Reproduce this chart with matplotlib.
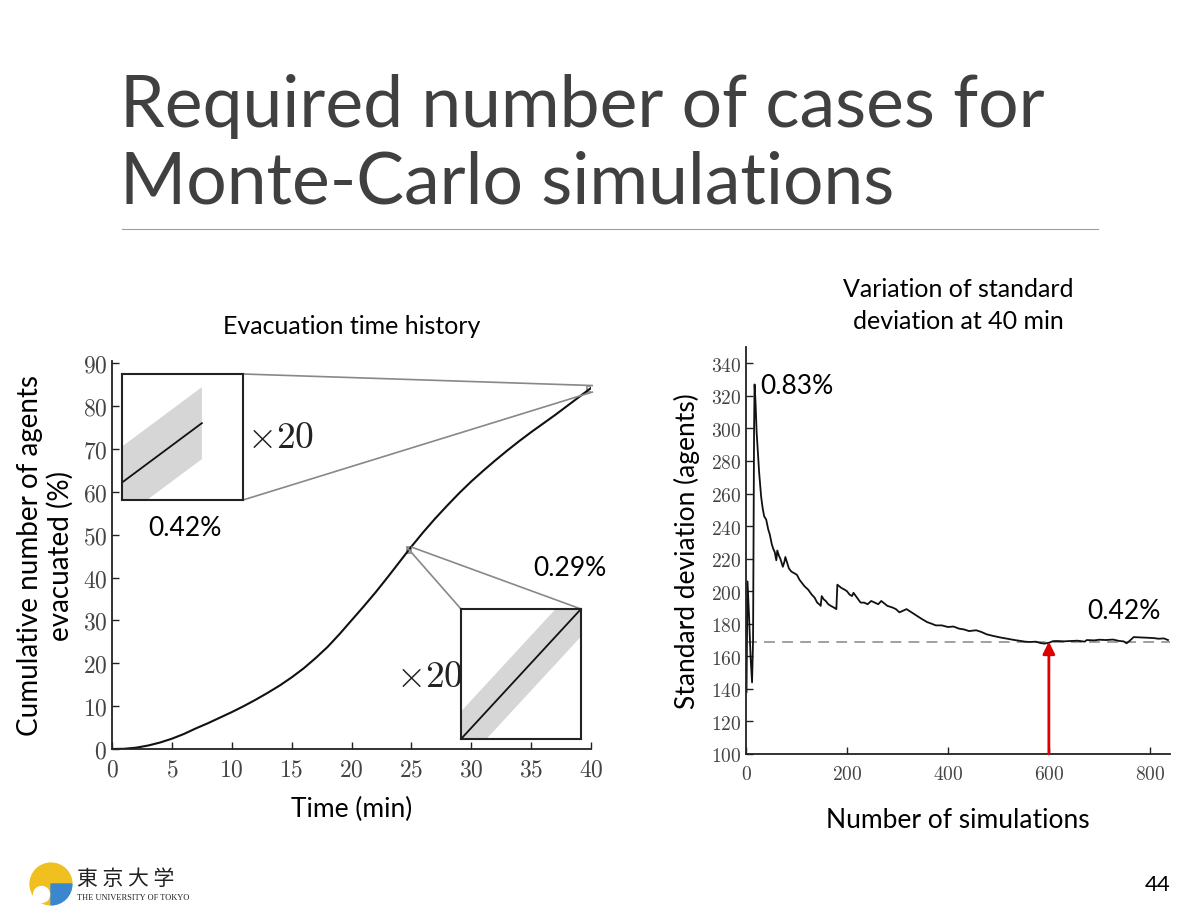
import matplotlib
matplotlib.use('Agg')
import matplotlib.pyplot as plt
from matplotlib.patches import Wedge, Circle
from matplotlib.ticker import FuncFormatter
from mpl_toolkits.axes_grid1.inset_locator import mark_inset
import numpy as np

plt.rcParams['font.family'] = ['Lato', 'DejaVu Sans']
plt.rcParams['mathtext.fontset'] = 'cm'

# evacuation time history (mean curve), one value per minute
time_min = list(range(0, 41))
evacuated_pct = [0, 0.05, 0.3, 0.8, 1.5, 2.4, 3.5, 4.8, 6.0, 7.3,
                 8.6, 10.0, 11.5, 13.1, 14.8, 16.7, 18.8, 21.2, 23.8, 26.8,
                 30.0, 33.2, 36.5, 40.0, 43.6, 47.2, 50.6, 53.8, 56.8, 59.7,
                 62.4, 64.9, 67.3, 69.6, 71.8, 73.9, 75.9, 77.9, 80.0, 82.1,
                 84.2]
band_25 = 0.29
band_40 = 0.42

# standard deviation at 40 min vs number of simulations
n_sims = [1, 3, 6, 9, 12, 14, 16, 17, 19, 21, 26, 30, 33, 36, 40, 44, 47,
          51, 54, 57, 60, 62, 65, 68, 71, 73, 76, 78, 82, 85, 90, 96, 101,
          106, 111, 116, 123, 130, 136, 141, 145, 148, 150, 154, 158, 163,
          168, 174, 179, 181, 185, 189, 195, 200, 205, 210, 213, 220, 227,
          234, 241, 248, 255, 262, 268, 272, 280, 290, 297, 304, 311, 318,
          328, 338, 348, 359, 368, 376, 388, 400, 411, 422, 432, 442, 450,
          456, 466, 477, 490, 505, 518, 532, 543, 553, 563, 574, 583, 591,
          601, 608, 616, 630, 643, 657, 671, 675, 690, 700, 713, 727, 740,
          748, 754, 760, 768, 782, 796, 808, 817, 828, 836]
std_agents = [138, 206, 185, 160, 144, 170, 300, 327, 315, 298, 273, 258,
              251, 246, 244, 238, 235, 229, 226, 224, 219, 225, 222, 220,
              217, 215, 218, 221, 217, 214, 212, 211, 210, 207, 205, 203,
              201, 198, 196, 193, 192, 191, 197, 195, 194, 192, 191, 190,
              189, 204, 203, 202, 201, 200, 198, 197, 199, 196, 193, 193,
              192, 194, 193, 192, 194, 193, 191, 190, 189, 187, 188, 189,
              187, 185, 183, 181, 180, 179, 179, 178, 178.3, 177, 176.5,
              175.5, 175.8, 176, 175, 173.5, 172.5, 171.5, 170.8, 170, 169.5,
              169, 168.8, 169, 168.2, 167.8, 168.4, 169.3, 169.4, 169.2,
              169.4, 169.6, 169, 170, 169.8, 170.2, 170, 170.3, 169.4, 169.2,
              168, 169.5, 171.8, 171.6, 171.4, 171.2, 170.8, 171, 170]
converged_std = 169
chosen_n = 600

fig = plt.figure(figsize=(12, 9.12), dpi=100)

# slide title
title_color = '#404040'
fig.text(0.1, 1 - 127 / 912, 'Required number of cases for', fontsize=51.5,
         color=title_color, va='baseline')
fig.text(0.1, 1 - 203 / 912, 'Monte-Carlo simulations', fontsize=51.5,
         color=title_color, va='baseline')
fig.add_artist(plt.Line2D([122 / 1200, 1098 / 1200], [1 - 230 / 912] * 2,
                          color='#a0a0a0', lw=0.8))

tick_fmt = FuncFormatter(lambda v, p: r'$%d$' % v)


def style_axes(ax, size):
    for s in ['top', 'right']:
        ax.spines[s].set_visible(False)
    for s in ['left', 'bottom']:
        ax.spines[s].set_linewidth(1.3)
        ax.spines[s].set_color('#222222')
    ax.tick_params(direction='in', length=5, width=1, colors='#222222',
                   labelsize=size, labelcolor='#444444')
    ax.tick_params(axis='x', pad=7)
    ax.xaxis.set_major_formatter(tick_fmt)
    ax.yaxis.set_major_formatter(tick_fmt)


# left chart
ax1 = fig.add_axes([112 / 1200, 1 - 750 / 912, 479 / 1200, 388 / 912])
ax1.plot(time_min, evacuated_pct, color='#111111', lw=1.5)
ax1.set_xlim(0, 40)
ax1.set_ylim(0, 90.5)
ax1.set_xticks(range(0, 41, 5))
ax1.set_yticks(range(0, 91, 10))
style_axes(ax1, 17)
ax1.set_xlabel('Time (min)', fontsize=19, labelpad=12)
ax1.set_ylabel('Cumulative number of agents\nevacuated (%)', fontsize=20,
               labelpad=6, linespacing=1.2)
ax1.set_title('Evacuation time history', fontsize=18, pad=20)

t = np.array(time_min, dtype=float)
v = np.array(evacuated_pct)


def make_inset(rect, xlim, ylim, band):
    ins = fig.add_axes(rect)
    ins.fill_between(t, v - band, v + band, color='#d6d6d6', lw=0)
    ins.plot(t, v, color='#111111', lw=1.3)
    ins.set_xlim(*xlim)
    ins.set_ylim(*ylim)
    ins.set_xticks([])
    ins.set_yticks([])
    for s in ins.spines.values():
        s.set_linewidth(1.5)
        s.set_color('#222222')
    return ins


v40 = np.interp(40, t, v)
ins1 = make_inset([122 / 1200, 1 - 501 / 912, 121 / 1200, 126 / 912],
                  (39.67, 40.17), (v40 - 0.61 * 1.47, v40 + 0.39 * 1.47),
                  band_40)
mark_inset(ax1, ins1, loc1=1, loc2=4, fc='none', ec='#888888', lw=1.2)

x2a, x2b = 24.6, 24.98
ins2 = make_inset([461 / 1200, 1 - 740 / 912, 120 / 1200, 130 / 912],
                  (x2a, x2b), (np.interp(x2a, t, v), np.interp(x2b, t, v)),
                  band_25)
mark_inset(ax1, ins2, loc1=2, loc2=1, fc='none', ec='#888888', lw=1.2)

fig.text(247 / 1200, 1 - 437 / 912, r'$\times20$', fontsize=27,
         color='#222222', va='center')
fig.text(396 / 1200, 1 - 676 / 912, r'$\times20$', fontsize=27,
         color='#222222', va='center')
fig.text(185 / 1200, 1 - 528 / 912, '0.42%', fontsize=19, ha='center',
         va='center')
fig.text(570 / 1200, 1 - 569 / 912, '0.29%', fontsize=19, ha='center',
         va='center')

# right chart
ax2 = fig.add_axes([746 / 1200, 1 - 755 / 912, 424 / 1200, 407 / 912])
ax2.plot(n_sims, std_agents, color='#111111', lw=1.3)
ax2.axhline(converged_std, color='#999999', lw=1.3, dashes=(6, 4), zorder=1)
ax2.annotate('', xy=(chosen_n, converged_std), xytext=(chosen_n, 100),
             arrowprops=dict(arrowstyle='-|>', color='#dd0000', lw=2,
                             mutation_scale=18, shrinkA=0, shrinkB=0),
             annotation_clip=False)
ax2.set_xlim(0, 840)
ax2.set_ylim(100, 350)
ax2.set_xticks(range(0, 801, 200))
ax2.set_yticks(range(100, 341, 20))
style_axes(ax2, 14)
ax2.set_xlabel('Number of simulations', fontsize=19, labelpad=18)
ax2.set_ylabel('Standard deviation (agents)', fontsize=19, labelpad=8)
ax2.set_title('Variation of standard\ndeviation at 40 min', fontsize=18,
              pad=14, linespacing=1.45)
fig.text(797 / 1200, 1 - 387 / 912, '0.83%', fontsize=19, ha='center',
         va='center')
fig.text(1124 / 1200, 1 - 612 / 912, '0.42%', fontsize=19, ha='center',
         va='center')

# footer: page number and logo
fig.text(1158 / 1200, 1 - 885 / 912, '44', fontsize=16, ha='center',
         va='center')
lg = fig.add_axes([28 / 1200, 1 - 908 / 912, 46 / 1200, 46 / 912])
lg.set_xlim(-1.1, 1.1)
lg.set_ylim(-1.1, 1.1)
lg.set_aspect('equal')
lg.axis('off')
lg.add_patch(Wedge((0, 0), 1, 0, 180, color='#f0c020'))
lg.add_patch(Wedge((0, 0), 1, 180, 270, color='#f0c020'))
lg.add_patch(Wedge((0, 0), 1, 270, 360, color='#3a86cf'))
lg.add_patch(Circle((-0.45, -0.5), 0.38, color='white'))
fig.text(77 / 1200, 1 - 879 / 912, '東 京 大 学', fontsize=15,
         family=['Noto Sans CJK JP'], color='#222222', va='center')
fig.text(77 / 1200, 1 - 898 / 912, 'THE UNIVERSITY OF TOKYO', fontsize=6,
         family=['Liberation Serif'], color='#222222', va='center')

fig.savefig('out.png', dpi=100, facecolor='white')
